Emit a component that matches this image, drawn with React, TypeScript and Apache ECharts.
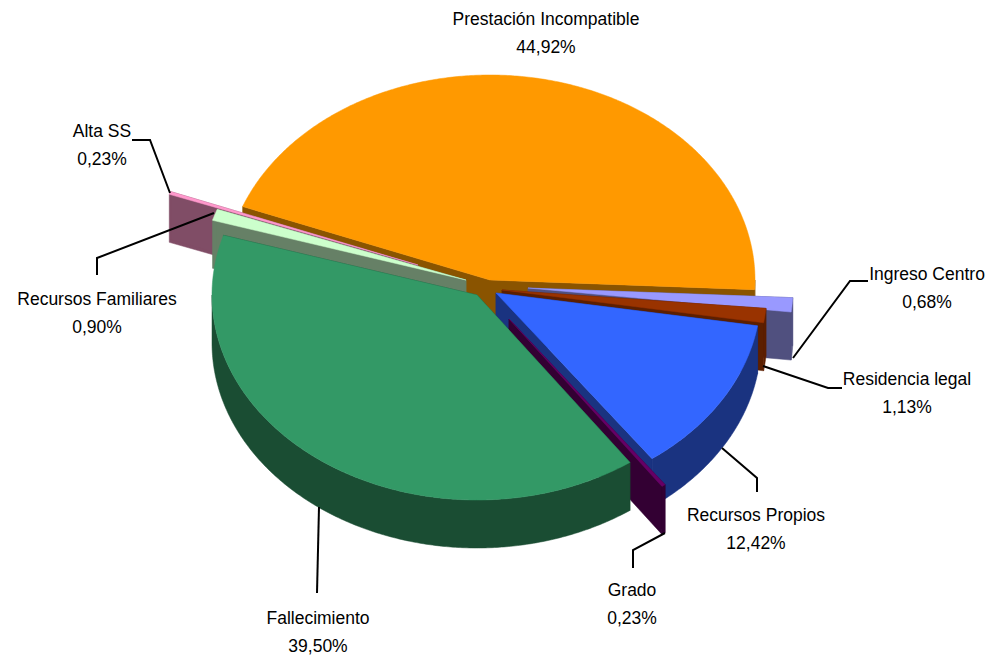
import React, { useEffect, useRef } from "react";
import * as echarts from "echarts";

const categories = ["Prestación Incompatible", "Ingreso Centro", "Residencia legal", "Recursos Propios", "Grado", "Fallecimiento", "Recursos Familiares", "Alta SS"];
const shares = [44.92, 0.68, 1.13, 12.42, 0.23, 39.5, 0.9, 0.23];
const topColors = ["#ff9900", "#9999ff", "#993300", "#3366ff", "#660066", "#339966", "#ccffcc", "#ff99cc"];
const wallColors = ["#8a5400", "#50507f", "#5c1f00", "#1a3380", "#330033", "#1a4d33", "#668066", "#804d66"];
const drawOrder = [0, 7, 6, 1, 2, 3, 4, 5];

// Layout of the exploded 3D pie
const apexes = [[490, 280], [528, 288], [502, 290], [496, 293], [509, 319], [477, 295], [466, 280], [418, 265]];
const extraSweep = [0, 1.6, 0, 0, 0, 0, 0, 0];
const RX = 265;
const RY = 205;
const DEPTH = 48;
const START_DEG = 291;

const labelPos = [[546, 19], [927, 274], [907, 379], [756, 515], [632, 590], [318, 618], [97, 299], [102, 131]];
const LINE_GAP = 28;
const leaders: (number[][] | null)[] = [
  null,
  [[868, 281], [850, 281], [793, 358]],
  [[842, 388], [828, 388], [763, 366]],
  [[757, 492], [757, 478], [722, 448]],
  [[633, 568], [633, 550], [665, 533]],
  [[317, 593], [319, 507]],
  [[97, 275], [97, 258], [214, 213]],
  [[132, 140], [150, 140], [170, 193]],
];

const total = shares.reduce((a, b) => a + b, 0);
const startAngles: number[] = [];
shares.reduce((acc, v, i) => {
  startAngles[i] = acc;
  return acc + (v / total) * 360;
}, START_DEG);

const pt = (i: number, deg: number, dy = 0) => {
  const r = (deg * Math.PI) / 180;
  return [apexes[i][0] + RX * Math.sin(r), apexes[i][1] - RY * Math.cos(r) + dy];
};

const sample = (i: number, a: number, b: number, dy = 0) => {
  const n = Math.max(2, Math.ceil(Math.abs(b - a) * 2));
  const out: number[][] = [];
  for (let k = 0; k <= n; k++) out.push(pt(i, a + ((b - a) * k) / n, dy));
  return out;
};

const renderItem = (_p: any, api: any) => {
  const i = api.value(1) as number;
  const value = api.value(0) as number;
  const a0 = startAngles[i];
  const a1 = a0 + (value / total) * 360 + extraSweep[i];
  const [ax, ay] = apexes[i];
  const children: any[] = [];
  const wall = wallColors[i];
  const poly = (points: number[][], fill: string) =>
    children.push({ type: "polygon", shape: { points }, style: { fill, stroke: fill, lineWidth: 0.5 } });
  const cut = (deg: number) => poly([[ax, ay], pt(i, deg), pt(i, deg, DEPTH), [ax, ay + DEPTH]], wall);
  cut(a0);
  cut(a1);
  // outer wall: front half of the rim only
  [[90, 270], [450, 630]].forEach(([f0, f1]) => {
    const s = Math.max(a0, f0);
    const e = Math.min(a1, f1);
    if (e > s) poly([...sample(i, s, e), ...sample(i, e, s, DEPTH)], wall);
  });
  poly([[ax, ay], ...sample(i, a0, a1)], topColors[i]);
  return { type: "group", children };
};

const fmt = (v: number) => v.toFixed(2).replace(".", ",") + "%";

export default function App() {
  const ref = useRef<HTMLDivElement>(null);
  useEffect(() => {
    document.body.style.margin = "0";
    const chart = echarts.init(ref.current!, null, { renderer: "svg" });
    const textStyle = { fill: "#000", font: '17.5px "Liberation Sans", Arial, sans-serif', textAlign: "center", textVerticalAlign: "middle" };
    const graphic: any[] = [];
    categories.forEach((name, i) => {
      const [x, y] = labelPos[i];
      graphic.push({ type: "text", x, y, z: 10, style: { ...textStyle, text: name } });
      graphic.push({ type: "text", x, y: y + LINE_GAP, z: 10, style: { ...textStyle, text: fmt(shares[i]) } });
      const l = leaders[i];
      if (l) graphic.push({ type: "polyline", z: 10, shape: { points: l }, style: { fill: "none", stroke: "#000", lineWidth: 2 } });
    });
    chart.setOption({
      animation: false,
      backgroundColor: "#ffffff",
      graphic,
      series: [
        {
          type: "custom",
          coordinateSystem: "none",
          renderItem,
          silent: true,
          data: drawOrder.map((i) => [shares[i], i]),
          encode: {},
        },
      ],
    });
    return () => chart.dispose();
  }, []);
  return <div ref={ref} style={{ position: "absolute", left: 0, top: 0, width: 987, height: 658 }} />;
}
